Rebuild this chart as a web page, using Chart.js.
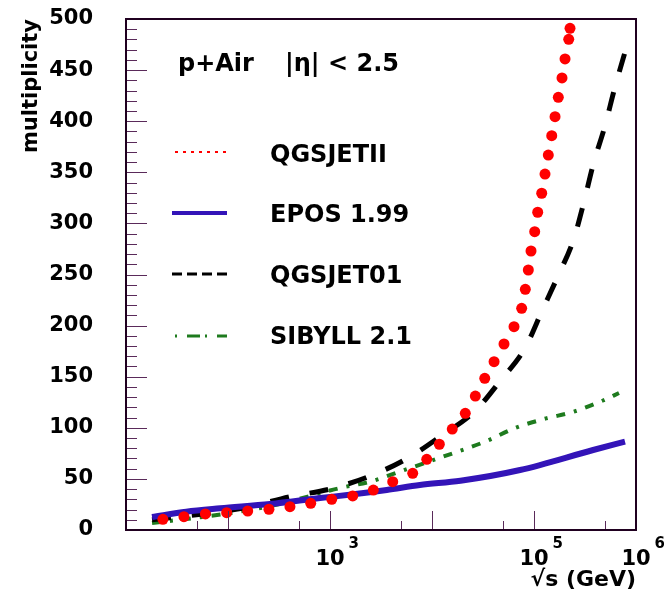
<!DOCTYPE html>
<html><head><meta charset="utf-8">
<script src="https://cdn.jsdelivr.net/npm/chart.js@4"></script>
<style>html,body{margin:0;padding:0;background:#fff}canvas{display:block}</style>
</head><body>
<canvas id="c" width="664" height="597"></canvas>
<script>
// ---- data ----
const seriesNames = ['QGSJETII', 'EPOS 1.99', 'QGSJET01', 'SIBYLL 2.1'];

const qgsjetIIx = [23, 37, 60, 97, 156, 252, 405, 647, 1040, 1670, 2660, 4120, 6470, 8880, 11800, 15800, 21200, 26600, 32900, 40600, 50800, 63700, 75700, 82200, 88000, 93500, 101600, 108700, 119000, 128200, 138100, 149200, 160800, 173100, 188200, 201500, 219000, 225500];
const qgsjetIIy = [10.5, 13, 15.7, 16.9, 18.6, 20.3, 22.8, 26.1, 30, 33.3, 39.1, 47.3, 55.5, 69.2, 83.9, 98.8, 114.2, 131.1, 148.4, 164.7, 182, 198.9, 216.9, 235.5, 254.4, 273, 291.9, 310.9, 329.5, 348.3, 366.9, 385.8, 404.4, 423.4, 442.3, 460.9, 480.1, 490.9];

const eposX = [18, 39, 84, 258, 800, 1700, 3600, 7600, 19000, 73000, 380000, 780000];
const eposY = [12.7, 17.9, 21.2, 25.4, 31.3, 34.9, 39.1, 44, 48.2, 58.7, 78.3, 86.4];

const qgsjet01X = [18, 60, 150, 400, 1000, 2470, 5820, 12240, 26400, 47400, 81600, 119700, 171800, 243800, 309000, 383000, 496000, 615000, 828000];
const qgsjet01Y = [10, 16, 22, 32.5, 40.1, 52.8, 70.5, 92, 116.4, 146.8, 178, 214.3, 248.5, 283.8, 321, 358.6, 395.3, 431.5, 476.5];

const sibyllX = [18, 93, 289, 1253, 2470, 4850, 12800, 33800, 65200, 125000, 246000, 474000, 681000];
const sibyllY = [6.8, 15.7, 24.5, 41.1, 47.3, 57.2, 71.7, 86.8, 99.8, 108.6, 115.8, 126.7, 134];

const xLabelValues = [1000, 100000, 1000000];
const xLabelExponents = ['3', '5', '6'];
const xMajorTickValues = [100, 1000, 10000, 100000];
const xMinorTickValues = [50, 500, 5000, 50000, 500000];
const yMajorStep = 50, yMinorStep = 10;

const headerText = ['p+Air', '|\u03b7| < 2.5'];
// --------------------------------------

const FONT = "'DejaVu Sans', 'Liberation Sans', sans-serif";
const colors = ['#ff0000', '#3314b8', '#000000', '#1e7b1e'];
const pts = (xs, ys) => xs.map((x, i) => ({x: x, y: ys[i]}));

const overlay = {
  id: 'overlay',
  afterDraw(chart) {
    const ctx = chart.ctx, a = chart.chartArea;
    const xs = chart.scales.x, ys = chart.scales.y;
    ctx.save();
    // inward ticks
    ctx.strokeStyle = '#5a2a5a';
    ctx.lineWidth = 1;
    ctx.beginPath();
    for (let v = 0; v <= 500; v += yMinorStep) {
      const py = Math.round(ys.getPixelForValue(v)) + 0.5;
      const len = (v % yMajorStep === 0) ? 21 : 11;
      ctx.moveTo(a.left, py); ctx.lineTo(a.left + len, py);
    }
    xMajorTickValues.forEach(v => {
      const px = Math.round(xs.getPixelForValue(v)) + 0.5;
      ctx.moveTo(px, a.bottom); ctx.lineTo(px, a.bottom - 19);
    });
    xMinorTickValues.forEach(v => {
      const px = Math.round(xs.getPixelForValue(v)) + 0.5;
      ctx.moveTo(px, a.bottom); ctx.lineTo(px, a.bottom - 9);
    });
    ctx.stroke();
    // frame
    ctx.strokeStyle = '#200020';
    ctx.lineWidth = 2;
    ctx.strokeRect(a.left, a.top, a.right - a.left, a.bottom - a.top);
    // exponents of x labels
    ctx.fillStyle = '#000';
    ctx.textBaseline = 'alphabetic';
    ctx.textAlign = 'left';
    xLabelValues.forEach((v, i) => {
      const px = xs.getPixelForValue(v);
      ctx.font = 'bold 21px ' + FONT;
      const w = ctx.measureText('10').width;
      ctx.font = 'bold 15px ' + FONT;
      ctx.fillText(xLabelExponents[i], px + w / 2 + 4, 548);
    });
    // header text
    ctx.font = 'bold 24px ' + FONT;
    ctx.fillText(headerText[0], 178, 71);
    ctx.fillText(headerText[1], 285, 71);
    // legend
    const rowY = [152, 213, 274, 336];
    const baseY = [161.5, 222, 283, 344];
    const styles = [
      {w: 2, dash: [3, 5], x0: 175},
      {w: 4, dash: [], x0: 172},
      {w: 3, dash: [10, 5], x0: 172},
      {w: 3, dash: [2, 10, 13, 5], x0: 175}
    ];
    chart.data.datasets.forEach((ds, i) => {
      const s = styles[i];
      ctx.strokeStyle = colors[i];
      ctx.lineWidth = s.w;
      ctx.setLineDash(s.dash);
      ctx.lineCap = 'butt';
      ctx.beginPath();
      ctx.moveTo(s.x0, rowY[i]); ctx.lineTo(227, rowY[i]);
      ctx.stroke();
      ctx.setLineDash([]);
      ctx.fillStyle = '#000';
      ctx.font = 'bold 24px ' + FONT;
      ctx.fillText(ds.label, 270, baseY[i]);
    });
    ctx.restore();
  }
};

new Chart(document.getElementById('c'), {
  type: 'line',
  data: {
    datasets: [
      {label: seriesNames[0], data: pts(qgsjetIIx, qgsjetIIy), showLine: false,
       pointRadius: 5.5, pointBackgroundColor: colors[0], pointBorderWidth: 0, borderColor: colors[0]},
      {label: seriesNames[1], data: pts(eposX, eposY), borderColor: colors[1], borderWidth: 6,
       pointRadius: 0, cubicInterpolationMode: 'monotone', fill: false},
      {label: seriesNames[2], data: pts(qgsjet01X, qgsjet01Y), borderColor: colors[2], borderWidth: 5,
       borderDash: [19, 21], pointRadius: 0, cubicInterpolationMode: 'monotone', fill: false},
      {label: seriesNames[3], data: pts(sibyllX, sibyllY), borderColor: colors[3], borderWidth: 4,
       borderDash: [9, 9, 3, 9], pointRadius: 0, cubicInterpolationMode: 'monotone', fill: false}
    ]
  },
  options: {
    responsive: false,
    animation: false,
    events: [],
    layout: {padding: {top: 19, right: 28, left: 0, bottom: 0}},
    plugins: {legend: {display: false}, tooltip: {enabled: false}},
    scales: {
      x: {
        type: 'logarithmic', min: 10, max: 1000000,
        grid: {display: false}, border: {display: false},
        afterBuildTicks: s => { s.ticks = xLabelValues.map(v => ({value: v})); },
        afterFit: s => { s.height = 67; s.paddingLeft = 0; s.paddingRight = 0; },
        ticks: {
          autoSkip: false, maxRotation: 0, minRotation: 0, padding: 9, color: '#000',
          font: {family: FONT, size: 21, weight: 'bold'},
          callback: v => (xLabelValues.includes(v) ? '10' : '')
        },
        title: {display: true, text: '\u221as (GeV)', align: 'end', color: '#000',
                font: {family: FONT, size: 22, weight: 'bold'}, padding: {top: 0, bottom: 4}}
      },
      y: {
        min: 0, max: 500,
        grid: {display: false}, border: {display: false},
        afterFit: s => { s.width = 126; s.paddingTop = 0; s.paddingBottom = 0; },
        ticks: {stepSize: yMajorStep, padding: 25, color: '#000',
                font: {family: FONT, size: 21, weight: 'bold'}},
        title: {display: true, text: 'multiplicity', align: 'end', color: '#000',
                font: {family: FONT, size: 21, weight: 'bold'}, padding: {top: 19, bottom: 0}}
      }
    }
  },
  plugins: [overlay]
});
</script>
</body></html>
